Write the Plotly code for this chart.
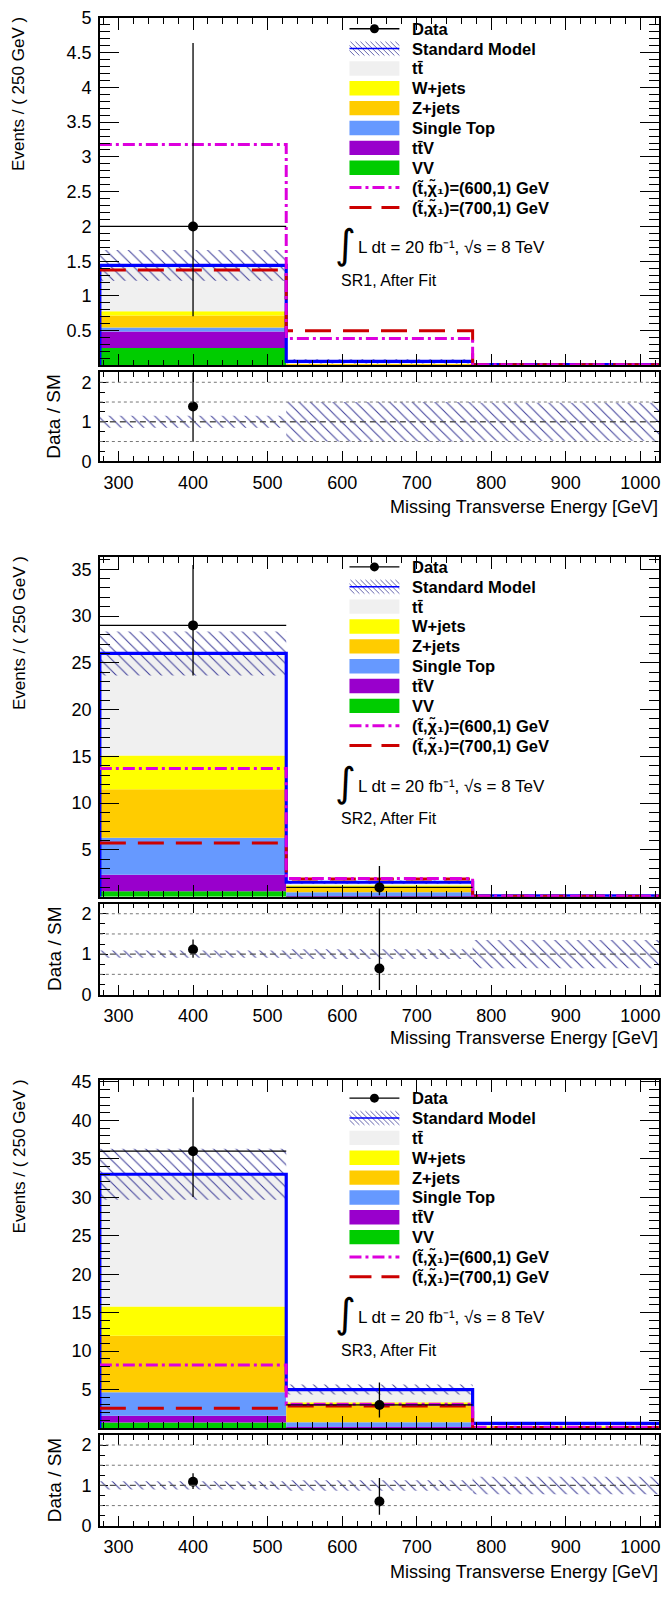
import plotly.graph_objects as go

# ---------------------------------------------------------------- binning
BIN_EDGES = [275, 525, 775, 1025]          # missing transverse energy [GeV]
REGIONS = ["SR1", "SR2", "SR3"]

# ------------------------------------- background yields (region x bin)
VV        = [[0.25, 0.002, 0.0005], [0.60, 0.02, 0.003], [0.73, 0.05, 0.01]]
TTV       = [[0.24, 0.005, 0.001], [1.75, 0.05, 0.01], [0.87, 0.10, 0.01]]
SINGLETOP = [[0.055, 0.01, 0.002], [3.95, 0.40, 0.02], [3.06, 0.60, 0.05]]
ZJETS     = [[0.175, 0.01, 0.002], [5.20, 0.55, 0.03], [7.34, 2.25, 0.12]]
WJETS     = [[0.06, 0.005, 0.001], [3.60, 0.20, 0.01], [3.80, 0.35, 0.05]]
TTBAR     = [[0.66, 0.028, 0.006], [10.9, 0.33, 0.03], [17.2, 1.65, 0.36]]
SM_UNC    = [[0.22, 0.03, 0.006], [2.35, 0.19, 0.036], [3.30, 0.65, 0.13]]

# ------------------------------------------------- observed data (Poisson)
DATA        = [[2, 0, 0], [29, 1, 0], [36, 3, 0]]
DATA_ERR_LO = [[1.29, 0, 0], [5.36, 0.83, 0], [5.96, 1.63, 0]]
DATA_ERR_HI = [[2.64, 0, 0], [6.44, 2.30, 0], [7.00, 2.92, 0]]

# ------------------------------------------------------- signal benchmarks
SIG_600 = [[3.18, 0.39, 0.012], [13.7, 1.95, 0.05], [8.2, 3.10, 0.10]]
SIG_700 = [[1.375, 0.50, 0.012], [5.75, 1.90, 0.05], [2.57, 2.85, 0.08]]

# ------------------------------------------------------------ axis ticks
Y_MAX = [5.0, 36.3, 45.2]
Y_TICKS = [
    [0.5, 1, 1.5, 2, 2.5, 3, 3.5, 4, 4.5, 5],
    [5, 10, 15, 20, 25, 30, 35],
    [5, 10, 15, 20, 25, 30, 35, 40, 45],
]
Y_TICK_TEXT = [
    ["0.5", "1", "1.5", "2", "2.5", "3", "3.5", "4", "4.5", "5"],
    ["5", "10", "15", "20", "25", "30", "35"],
    ["5", "10", "15", "20", "25", "30", "35", "40", "45"],
]
Y_MINOR = [0.1, 1, 1]
X_TICKS = [300, 400, 500, 600, 700, 800, 900, 1000]
RATIO_RANGE = [0, 2.25]
RATIO_TICKS = [0, 1, 2]
RATIO_GUIDES = [0.5, 1.5, 2.0]

# ---------------------------------------------------------------- styling
W, H = 662, 1598
FONT = "Liberation Sans, Arial, Helvetica, sans-serif"
X_PX = (100, 660)
MAIN_PX = [(8, 360), (554, 898), (1084, 1436)]
RATIO_PX = [(367, 457), (905, 997), (1443, 1535)]
XTITLE_Y = [503, 1041, 1582]
LEG_TOP = [19.0, 564.0, 1102.0]
LEG_STEP = 20.1

HATCH = "#40409a"
SM_BLUE = "#0000ff"
C_600 = "#dd00dd"
C_700 = "#cc0000"
COMPONENTS = [  # drawn bottom to top
    ("VV", VV, "#00cc00"),
    ("ttV", TTV, "#9900cc"),
    ("Single Top", SINGLETOP, "#6699ff"),
    ("Z+jets", ZJETS, "#ffcc00"),
    ("W+jets", WJETS, "#ffff00"),
    ("ttbar", TTBAR, "#f0f0f0"),
]
LEGEND_FILLS = ["#f0f0f0", "#ffff00", "#ffcc00", "#6699ff", "#9900cc", "#00cc00"]
LEGEND_LABELS = ["Data", "Standard Model", "tt\u0304", "W+jets", "Z+jets",
                 "Single Top", "tt\u0304V", "VV",
                 "(t\u0303,\u03c7\u0303\u2081)=(600,1) GeV",
                 "(t\u0303,\u03c7\u0303\u2081)=(700,1) GeV"]


def px_x(x):
    return x / W


def px_y(y):
    return 1 - y / H


def ax_suffix(n):
    return "" if n == 1 else str(n)


centers = [(a + b) / 2 for a, b in zip(BIN_EDGES[:-1], BIN_EDGES[1:])]
widths = [b - a for a, b in zip(BIN_EDGES[:-1], BIN_EDGES[1:])]
half = [w / 2 for w in widths]
step_x = [BIN_EDGES[0]] + BIN_EDGES[:-1] + [BIN_EDGES[-1]]


def step_y(vals):
    return [0] + list(vals) + [vals[-1]]


hatch_pattern = dict(shape="\\", fgcolor=HATCH, bgcolor="rgba(0,0,0,0)",
                     size=8, solidity=0.13, fillmode="replace")

fig = go.Figure()
layout = {}
shapes = []
annotations = []

for r, region in enumerate(REGIONS):
    m, q = 2 * r + 1, 2 * r + 2
    xm, ym = "x" + ax_suffix(m), "y" + ax_suffix(m)
    xq, yq = "x" + ax_suffix(q), "y" + ax_suffix(q)

    # stacked backgrounds
    base = [0.0] * len(centers)
    for name, comp, col in COMPONENTS:
        vals = comp[r]
        fig.add_trace(go.Bar(
            x=centers, y=vals, base=list(base), width=widths,
            marker=dict(color=col, line=dict(width=0)),
            xaxis=xm, yaxis=ym, showlegend=False, name=name))
        base = [b + v for b, v in zip(base, vals)]
    sm = base
    unc = SM_UNC[r]

    # SM uncertainty band
    fig.add_trace(go.Bar(
        x=centers, y=[2 * u for u in unc],
        base=[s - u for s, u in zip(sm, unc)], width=widths,
        marker=dict(color=HATCH, line=dict(width=0), pattern=hatch_pattern),
        xaxis=xm, yaxis=ym, showlegend=False))

    # SM total outline
    fig.add_trace(go.Scatter(
        x=step_x, y=step_y(sm), mode="lines", line_shape="hv",
        line=dict(color=SM_BLUE, width=3.2),
        xaxis=xm, yaxis=ym, showlegend=False))

    # signal hypotheses
    fig.add_trace(go.Scatter(
        x=step_x[1:], y=list(SIG_700[r]) + [SIG_700[r][-1]], mode="lines",
        line_shape="hv", line=dict(color=C_700, width=3, dash="26px,12px"),
        xaxis=xm, yaxis=ym, showlegend=False))
    fig.add_trace(go.Scatter(
        x=step_x[1:], y=list(SIG_600[r]) + [SIG_600[r][-1]], mode="lines",
        line_shape="hv",
        line=dict(color=C_600, width=3, dash="12px,4px,3px,4px"),
        xaxis=xm, yaxis=ym, showlegend=False))

    # data
    sel = [i for i, d in enumerate(DATA[r]) if d > 0]
    fig.add_trace(go.Scatter(
        x=[centers[i] for i in sel], y=[DATA[r][i] for i in sel],
        mode="markers", marker=dict(color="black", size=10, symbol="circle"),
        error_x=dict(type="data", array=[half[i] for i in sel],
                     color="black", thickness=1.3, width=0),
        error_y=dict(type="data", symmetric=False,
                     array=[DATA_ERR_HI[r][i] for i in sel],
                     arrayminus=[DATA_ERR_LO[r][i] for i in sel],
                     color="black", thickness=1.3, width=0),
        xaxis=xm, yaxis=ym, showlegend=False))

    # ratio: uncertainty band
    rel = [u / s for u, s in zip(unc, sm)]
    fig.add_trace(go.Bar(
        x=centers, y=[2 * v for v in rel], base=[1 - v for v in rel],
        width=widths,
        marker=dict(color=HATCH, line=dict(width=0), pattern=hatch_pattern),
        xaxis=xq, yaxis=yq, showlegend=False))

    # ratio: data / SM
    fig.add_trace(go.Scatter(
        x=[centers[i] for i in sel], y=[DATA[r][i] / sm[i] for i in sel],
        mode="markers", marker=dict(color="black", size=10),
        error_y=dict(type="data", symmetric=False,
                     array=[DATA_ERR_HI[r][i] / sm[i] for i in sel],
                     arrayminus=[DATA_ERR_LO[r][i] / sm[i] for i in sel],
                     color="black", thickness=1.3, width=0),
        xaxis=xq, yaxis=yq, showlegend=False))

    # ratio guide lines
    for g in RATIO_GUIDES:
        shapes.append(dict(type="line", xref=f"{xq} domain", yref=yq,
                           x0=0, x1=1, y0=g, y1=g, layer="above",
                           line=dict(color="#777777", width=1, dash="dot")))
    shapes.append(dict(type="line", xref=f"{xq} domain", yref=yq,
                       x0=0, x1=1, y0=1, y1=1, layer="above",
                       line=dict(color="#555555", width=1.4, dash="6px,4px")))

    # axes
    xdom = [px_x(X_PX[0]), px_x(X_PX[1])]
    common_x = dict(domain=xdom, range=[BIN_EDGES[0], BIN_EDGES[-1]],
                    tickmode="array", tickvals=X_TICKS,
                    ticks="inside", tickcolor="black", tickwidth=1,
                    showline=True, linecolor="black", linewidth=1.6,
                    mirror="allticks", showgrid=False, zeroline=False,
                    tickfont=dict(family=FONT, size=18, color="black"))
    layout["xaxis" + ax_suffix(m)] = dict(
        common_x, anchor=ym, showticklabels=False, ticklen=12,
        minor=dict(ticks="inside", ticklen=6, dtick=20, tick0=300,
                   tickcolor="black", tickwidth=1, showgrid=False))
    layout["xaxis" + ax_suffix(q)] = dict(
        common_x, anchor=yq, showticklabels=True, ticklen=10,
        ticklabelstandoff=4,
        minor=dict(ticks="inside", ticklen=5, dtick=20, tick0=300,
                   tickcolor="black", tickwidth=1, showgrid=False))
    layout["yaxis" + ax_suffix(m)] = dict(
        domain=[px_y(MAIN_PX[r][1]), px_y(MAIN_PX[r][0])],
        range=[0, Y_MAX[r]], anchor=xm,
        tickmode="array", tickvals=Y_TICKS[r], ticktext=Y_TICK_TEXT[r],
        ticks="inside", ticklen=19, tickcolor="black", tickwidth=1,
        minor=dict(ticks="inside", ticklen=10, dtick=Y_MINOR[r], tick0=0,
                   tickcolor="black", tickwidth=1, showgrid=False),
        showline=True, linecolor="black", linewidth=1.6, mirror="allticks",
        showgrid=False, zeroline=False, ticklabelstandoff=3,
        tickfont=dict(family=FONT, size=18, color="black"))
    layout["yaxis" + ax_suffix(q)] = dict(
        domain=[px_y(RATIO_PX[r][1]), px_y(RATIO_PX[r][0])],
        range=RATIO_RANGE, anchor=xq,
        tickmode="array", tickvals=RATIO_TICKS,
        ticks="inside", ticklen=8, tickcolor="black", tickwidth=1,
        minor=dict(ticks="inside", ticklen=5, dtick=0.25, tick0=0,
                   tickcolor="black", tickwidth=1, showgrid=False),
        showline=True, linecolor="black", linewidth=1.6, mirror="allticks",
        showgrid=False, zeroline=False, ticklabelstandoff=3,
        tickfont=dict(family=FONT, size=18, color="black"))

    # axis titles
    top, bot = MAIN_PX[r]
    annotations.append(dict(
        text="Events / ( 250 GeV )", textangle=-90, showarrow=False,
        xref="paper", yref="paper", x=px_x(19), y=px_y(top - 3),
        xanchor="center", yanchor="top",
        font=dict(family=FONT, size=17, color="black")))
    rt, rb = RATIO_PX[r]
    annotations.append(dict(
        text="Data / SM", textangle=-90, showarrow=False,
        xref="paper", yref="paper", x=px_x(54), y=px_y((rt + rb) / 2),
        xanchor="center", yanchor="middle",
        font=dict(family=FONT, size=19, color="black")))
    annotations.append(dict(
        text="Missing Transverse Energy [GeV]", showarrow=False,
        xref="paper", yref="paper", x=px_x(661), y=px_y(XTITLE_Y[r]),
        xanchor="right", yanchor="middle",
        font=dict(family=FONT, size=18, color="black")))

    # legend
    gx0, gx1 = 350, 400
    for k, lab in enumerate(LEGEND_LABELS):
        yc = LEG_TOP[r] + k * LEG_STEP
        annotations.append(dict(
            text=f"<b>{lab}</b>", showarrow=False, xref="paper", yref="paper",
            x=px_x(411), y=px_y(yc), xanchor="left", yanchor="middle",
            font=dict(family=FONT, size=16.5, color="black")))
        if k == 0:
            shapes.append(dict(type="line", xref="paper", yref="paper",
                               x0=px_x(gx0), x1=px_x(gx1), y0=px_y(yc), y1=px_y(yc),
                               line=dict(color="black", width=1.3)))
            shapes.append(dict(type="circle", xref="paper", yref="paper",
                               x0=px_x(370.5), x1=px_x(379.5),
                               y0=px_y(yc - 4.5), y1=px_y(yc + 4.5),
                               fillcolor="black", line=dict(color="black", width=0)))
        elif k == 1:
            # hatched box with the SM outline colour through the middle
            y0b, y1b = yc - 7, yc + 7
            hgt = y1b - y0b
            c = gx0 - hgt
            while c < gx1:
                xa, ya_ = c, y0b
                xb, yb = c + hgt, y1b
                if xa < gx0:
                    ya_ += gx0 - xa
                    xa = gx0
                if xb > gx1:
                    yb -= xb - gx1
                    xb = gx1
                if xb > xa:
                    shapes.append(dict(type="line", xref="paper", yref="paper",
                                       x0=px_x(xa), x1=px_x(xb),
                                       y0=px_y(ya_), y1=px_y(yb),
                                       line=dict(color=HATCH, width=0.8)))
                c += 5
            shapes.append(dict(type="line", xref="paper", yref="paper",
                               x0=px_x(gx0), x1=px_x(gx1), y0=px_y(yc), y1=px_y(yc),
                               line=dict(color=SM_BLUE, width=1.5)))
        elif k <= 7:
            shapes.append(dict(type="rect", xref="paper", yref="paper",
                               x0=px_x(gx0), x1=px_x(gx1),
                               y0=px_y(yc - 7.3), y1=px_y(yc + 7.3),
                               fillcolor=LEGEND_FILLS[k - 2], line=dict(width=0)))
        elif k == 8:
            shapes.append(dict(type="line", xref="paper", yref="paper",
                               x0=px_x(gx0), x1=px_x(gx1), y0=px_y(yc), y1=px_y(yc),
                               line=dict(color=C_600, width=3, dash="12px,4px,3px,4px")))
        else:
            shapes.append(dict(type="line", xref="paper", yref="paper",
                               x0=px_x(gx0), x1=px_x(gx1), y0=px_y(yc), y1=px_y(yc),
                               line=dict(color=C_700, width=3, dash="22px,10px")))

    # luminosity and region labels
    ylumi = LEG_TOP[r] + 220
    annotations.append(dict(
        text="\u222b", showarrow=False, xref="paper", yref="paper",
        x=px_x(346), y=px_y(ylumi - 2), xanchor="center", yanchor="middle",
        font=dict(family="DejaVu Sans, sans-serif", size=40, color="black")))
    annotations.append(dict(
        text="L dt = 20 fb\u207b\u00b9, \u221as = 8 TeV", showarrow=False,
        xref="paper", yref="paper", x=px_x(357), y=px_y(ylumi + 2),
        xanchor="left", yanchor="middle",
        font=dict(family=FONT, size=17, color="black")))
    annotations.append(dict(
        text=f"{region}, After Fit", showarrow=False,
        xref="paper", yref="paper", x=px_x(340), y=px_y(LEG_TOP[r] + 255),
        xanchor="left", yanchor="middle",
        font=dict(family=FONT, size=16, color="black")))

fig.update_layout(
    width=W, height=H, autosize=False,
    margin=dict(l=0, r=0, t=0, b=0),
    paper_bgcolor="white", plot_bgcolor="white",
    barmode="overlay", showlegend=False,
    shapes=shapes, annotations=annotations,
    **layout,
)

fig.write_html("out.html")
